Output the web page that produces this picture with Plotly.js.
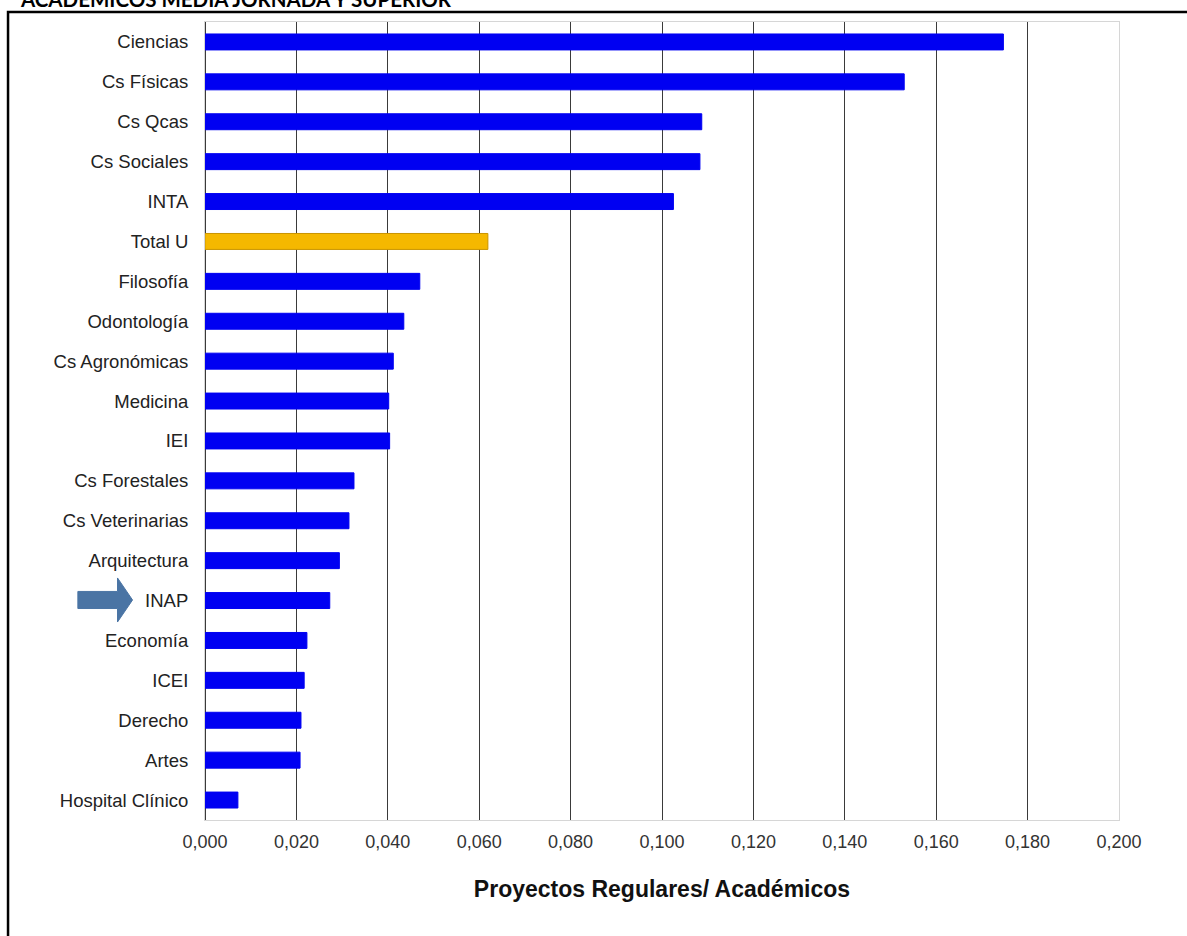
<!DOCTYPE html>
<html>
<head>
<meta charset="utf-8">
<script src="https://cdn.plot.ly/plotly-3.0.1.min.js"></script>
<style>
html,body{margin:0;padding:0;background:#fff;}
#chart{width:1187px;height:936px;}
</style>
</head>
<body>
<div id="chart"></div>
<script>
const categories = ["Ciencias","Cs Físicas","Cs Qcas","Cs Sociales","INTA","Total U","Filosofía","Odontología","Cs Agronómicas","Medicina","IEI","Cs Forestales","Cs Veterinarias","Arquitectura","INAP","Economía","ICEI","Derecho","Artes","Hospital Clínico"];
const values = [0.1747,0.1530,0.1087,0.1083,0.1025,0.0619,0.0470,0.0435,0.0412,0.0402,0.0404,0.0326,0.0315,0.0294,0.0273,0.0223,0.0217,0.0210,0.0208,0.0072];
const highlight = "Total U";
const tickValues = [0,0.02,0.04,0.06,0.08,0.10,0.12,0.14,0.16,0.18,0.20];
const xTitle = "Proyectos Regulares/ Académicos";
const pageTitle = "ACADÉMICOS MEDIA JORNADA Y SUPERIOR";

const blue = "#0000f2";
const gold = "#f5b800";
const colors = categories.map(c => c === highlight ? gold : blue);
const lineColors = categories.map(c => c === highlight ? "#c99400" : blue);

const trace = {
  type: "bar",
  orientation: "h",
  x: values,
  y: categories,
  width: 0.4,
  marker: {color: colors, line: {color: lineColors, width: 1}},
  hoverinfo: "x+y"
};

const layout = {
  width: 1187,
  height: 936,
  margin: {l: 205, r: 68, t: 22, b: 116},
  paper_bgcolor: "#ffffff",
  plot_bgcolor: "#ffffff",
  separators: ",.",
  showlegend: false,
  font: {family: "Liberation Sans, Arial, sans-serif", color: "#222"},
  xaxis: {
    range: [0, 0.2],
    tickvals: tickValues,
    tickformat: ".3f",
    showgrid: true,
    gridcolor: "#3a3a3a",
    gridwidth: 1,
    zeroline: true,
    zerolinecolor: "#3a3a3a",
    zerolinewidth: 1,
    showline: true,
    mirror: true,
    linecolor: "#d6d6d6",
    linewidth: 1,
    ticks: "outside",
    ticklen: 5,
    tickcolor: "rgba(0,0,0,0)",
    tickfont: {size: 18, color: "#333"},
    fixedrange: true,
    automargin: false,
    title: {text: xTitle, font: {size: 23, color: "#111", family: "Liberation Sans, Arial, sans-serif", weight: "bold"}, standoff: 30}
  },
  yaxis: {
    type: "category",
    categoryorder: "array",
    categoryarray: categories,
    autorange: "reversed",
    showgrid: false,
    zeroline: false,
    showline: true,
    mirror: true,
    linecolor: "#d6d6d6",
    ticks: "outside",
    ticklen: 12,
    tickcolor: "rgba(0,0,0,0)",
    tickfont: {size: 18.5, color: "#222"},
    fixedrange: true,
    automargin: false
  },
  shapes: [
    {type: "rect", xref: "paper", yref: "paper", x0: -0.2155, x1: 1.2, y0: -0.3, y1: 1.0125,
     line: {color: "#000", width: 2.5}, fillcolor: "rgba(0,0,0,0)", layer: "above"},
    {type: "path", xref: "paper", yref: "paper",
     path: "M -0.1391,0.2864 L -0.0957,0.2864 L -0.0957,0.3033 L -0.0793,0.2757 L -0.0957,0.2481 L -0.0957,0.2650 L -0.1391,0.2650 Z",
     fillcolor: "#4a74a4", line: {color: "#4a74a4", width: 1}, layer: "above"}
  ],
  annotations: [
    {text: "<b>" + pageTitle + "</b>", xref: "paper", yref: "paper", x: -0.2050, y: 1.0290,
     xanchor: "left", yanchor: "middle", showarrow: false,
     font: {family: "Lato, Liberation Sans, sans-serif", size: 20.5, color: "#000"}}
  ]
};

Plotly.newPlot("chart", [trace], layout, {displayModeBar: false, staticPlot: true});
</script>
</body>
</html>
